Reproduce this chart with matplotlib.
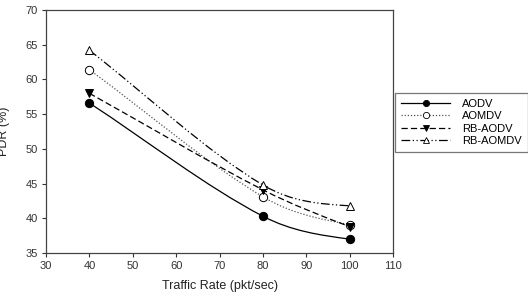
import numpy as np
import matplotlib
matplotlib.use("Agg")
import matplotlib.pyplot as plt
from matplotlib.path import Path
from matplotlib.patches import PathPatch
from matplotlib.lines import Line2D

plt.rcParams['font.family'] = ['Liberation Sans', 'DejaVu Sans']

# データ
traffic = [40, 80, 100]
aodv = [56.6, 40.3, 37.0]
aomdv = [61.4, 43.1, 39.1]
rb_aodv = [58.0, 44.1, 38.8]
rb_aomdv = [64.2, 44.8, 41.8]
names = ["AODV", "AOMDV", "RB-AODV", "RB-AOMDV"]

def spline_path(x, y):  # 点を通る滑らかな曲線 (ベジェ) を作る
    x = np.asarray(x, float)
    y = np.asarray(y, float)
    h = np.diff(x)
    d = np.diff(y) / h
    m = np.empty(len(x))
    m[1:-1] = (y[2:] - y[:-2]) / (x[2:] - x[:-2])
    m[0] = d[0]
    m[-1] = 1.5 * d[-1] - 0.5 * m[-2]
    verts = [(x[0], y[0])]
    codes = [Path.MOVETO]
    for i in range(len(h)):
        verts += [(x[i] + h[i] / 3, y[i] + m[i] * h[i] / 3),
                  (x[i + 1] - h[i] / 3, y[i + 1] - m[i + 1] * h[i] / 3),
                  (x[i + 1], y[i + 1])]
        codes += [Path.CURVE4] * 3
    return Path(verts, codes)

fig = plt.figure(figsize=(5.28, 3.02), dpi=100)
ax = fig.add_axes([46 / 528, 1 - 253 / 302, 347 / 528, 243 / 302])

styles = [
    dict(ls='-', color='black', marker='o', mfc='black'),
    dict(ls=(0, (1, 1.5)), color='#555555', marker='o', mfc='white'),
    dict(ls=(0, (5, 2.5)), color='black', marker='v', mfc='black'),
    dict(ls=(0, (7, 2, 1, 2, 1, 2)), color='black', marker='^', mfc='white'),
]
series = [aodv, aomdv, rb_aodv, rb_aomdv]

handles = []
for ys, st, name in zip(series, styles, names):
    patch = PathPatch(spline_path(traffic, ys), fill=False, edgecolor=st['color'],
                      linestyle=st['ls'], linewidth=0.9)
    ax.add_patch(patch)
    ax.plot(traffic, ys, linestyle='none', marker=st['marker'], markersize=6,
            markerfacecolor=st['mfc'], markeredgecolor='black', markeredgewidth=0.7, zorder=3)
    handles.append(Line2D([], [], linestyle=st['ls'], color=st['color'], linewidth=0.9,
                          marker=st['marker'], markersize=4.5, markerfacecolor=st['mfc'],
                          markeredgecolor='black', markeredgewidth=0.6))

ax.set_xlim(30, 110)
ax.set_ylim(35, 70)
ax.set_xticks(range(30, 111, 10))
ax.set_yticks(range(35, 71, 5))
ax.tick_params(direction='out', length=3, width=0.8, labelsize=8, colors='#333333', pad=3)
ax.tick_params(top=False, right=False)
for s in ax.spines.values():
    s.set_color('#444444')
    s.set_linewidth(0.9)

ax.set_xlabel("Traffic Rate (pkt/sec)", fontsize=9, color='#222222', labelpad=6)
ax.set_ylabel("PDR (%)", fontsize=9, color='#222222')
ax.yaxis.set_label_coords(-0.105, 0.5)

leg = fig.legend(handles, names, loc='upper left', bbox_to_anchor=(395 / 528, 1 - 93 / 302),
                 borderaxespad=0, fontsize=8, frameon=True, fancybox=False,
                 handlelength=4.4, handletextpad=1.1, labelspacing=0.2,
                 borderpad=0.55)
leg.get_frame().set_edgecolor('#555555')
leg.get_frame().set_linewidth(0.9)

fig.savefig("out.png", dpi=100)
